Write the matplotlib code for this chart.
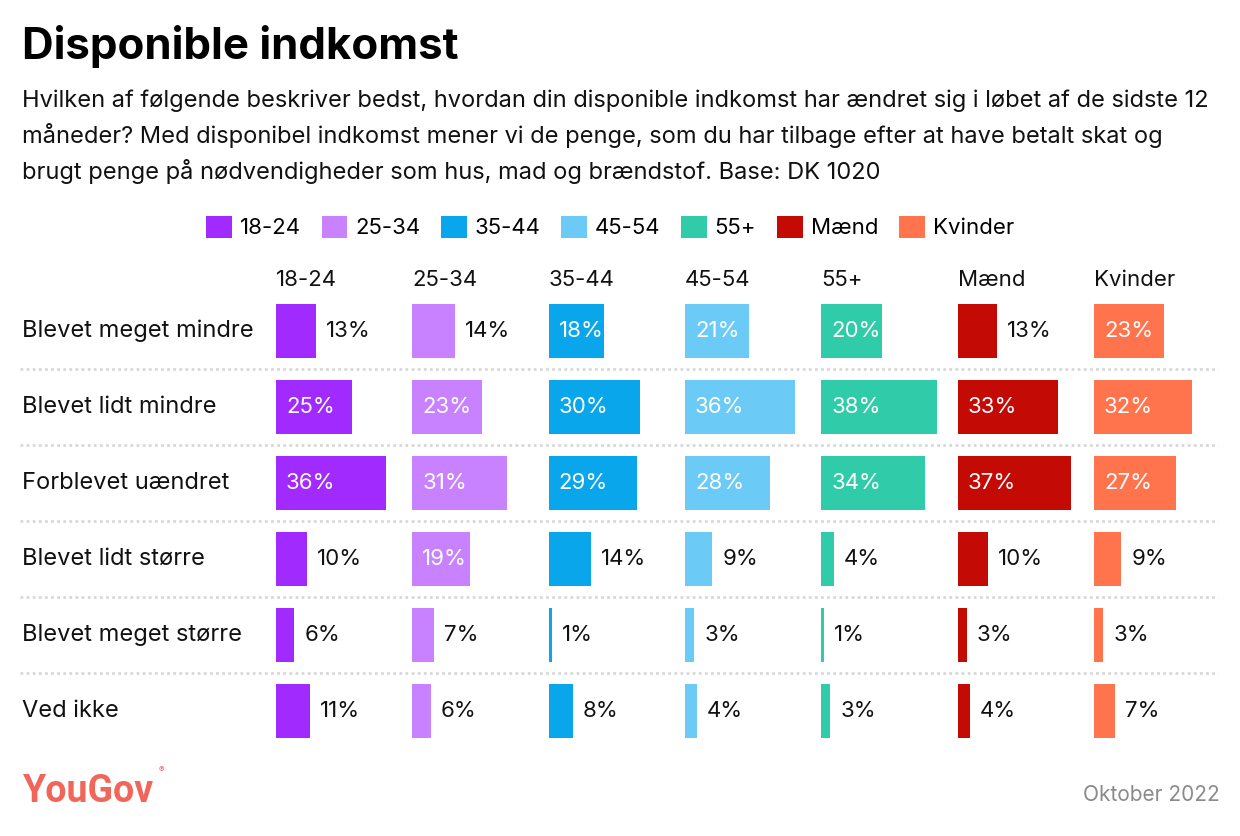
import matplotlib.pyplot as plt
from matplotlib.patches import Patch

# data
rows = ["Blevet meget mindre", "Blevet lidt mindre", "Forblevet uændret",
        "Blevet lidt større", "Blevet meget større", "Ved ikke"]
groups = ["18-24", "25-34", "35-44", "45-54", "55+", "Mænd", "Kvinder"]
v_18_24 = [13, 25, 36, 10, 6, 11]
v_25_34 = [14, 23, 31, 19, 7, 6]
v_35_44 = [18, 30, 29, 14, 1, 8]
v_45_54 = [21, 36, 28, 9, 3, 4]
v_55 = [20, 38, 34, 4, 1, 3]
v_maend = [13, 33, 37, 10, 3, 4]
v_kvinder = [23, 32, 27, 9, 3, 7]
values = [v_18_24, v_25_34, v_35_44, v_45_54, v_55, v_maend, v_kvinder]
colors = ["#A12AFF", "#C882FF", "#09A6EC", "#6CCAF6", "#30CBA8", "#C30A05", "#FF744C"]

title = "Disponible indkomst"
subtitle = ("Hvilken af følgende beskriver bedst, hvordan din disponible indkomst har ændret sig i løbet af de sidste 12\n"
            "måneder? Med disponibel indkomst mener vi de penge, som du har tilbage efter at have betalt skat og\n"
            "brugt penge på nødvendigheder som hus, mad og brændstof. Base: DK 1020")

FONT = "Inter"
plt.rcParams['font.family'] = [FONT, 'DejaVu Sans']

W, H = 1240, 836
fig = plt.figure(figsize=(W / 100, H / 100), dpi=100)
ax = fig.add_axes([0, 0, 1, 1])
ax.set_xlim(0, W)
ax.set_ylim(H, 0)
ax.axis('off')

# layout (pixels)
x0, step = 276, 136.33
px_per_pct = 3.05
y_row0, row_step, bar_h = 331, 76, 54

fig.text(22 / W, 1 - 46 / H, title, fontsize=31.5, fontweight='bold', va='center', ha='left')
fig.text(22 / W, 1 - 90 / H, subtitle, fontsize=17, va='top', ha='left', color='#111111',
         linespacing=1.53)

handles = [Patch(facecolor=c, edgecolor='none') for c in colors]
fig.legend(handles, groups, loc='center', bbox_to_anchor=(610 / W, 1 - 227 / H), ncol=7,
           frameon=False, fontsize=16, handlelength=1.15, handleheight=1.15,
           handletextpad=0.35, columnspacing=0.95)

for i, g in enumerate(groups):
    ax.text(x0 + i * step, 280, g, fontsize=16, va='center', ha='left', color='#111111')

for r, lab in enumerate(rows):
    y = y_row0 + r * row_step
    ax.text(22, y, lab, fontsize=17, va='center', ha='left', color='#111111')
    if r < len(rows) - 1:
        ax.plot([20, 1218], [y + row_step / 2, y + row_step / 2], color='#d8d8d8',
                lw=2, ls=(0, (1, 1.2)))

for i, vals in enumerate(values):
    left = x0 + i * step
    ax.barh([y_row0 + r * row_step for r in range(len(rows))],
            [v * px_per_pct for v in vals], left=left, height=bar_h,
            color=colors[i], edgecolor='none')
    for r, v in enumerate(vals):
        y = y_row0 + r * row_step
        if v >= 15:
            ax.text(left + 10, y, f"{v}%", fontsize=16, va='center', ha='left', color='white')
        else:
            ax.text(left + v * px_per_pct + 10, y, f"{v}%", fontsize=16, va='center',
                    ha='left', color='#111111')

ax.text(22, 792, "YouGov", fontsize=27, fontweight='bold', color='#F2655A', va='center',
        ha='left', family=['Liberation Sans Narrow', 'Roboto', 'DejaVu Sans'])
ax.text(159, 770, "®", fontsize=6, color='#F2655A', va='center', ha='left')
ax.text(1220, 795, "Oktober 2022", fontsize=15, color='#8a8a8a', va='center', ha='right')

fig.savefig("out.png", dpi=100)
